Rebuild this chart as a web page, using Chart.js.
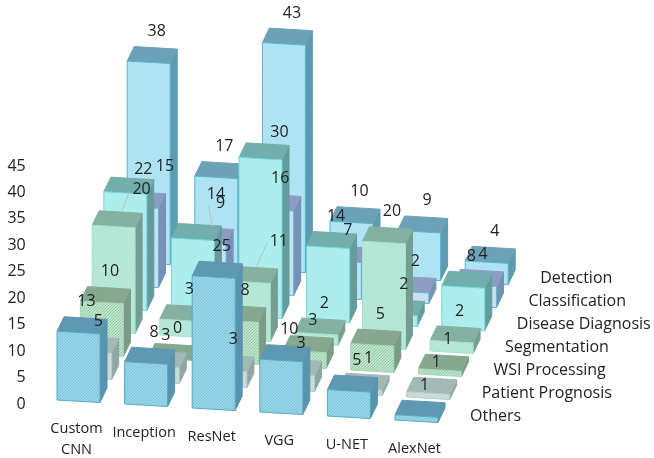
<!DOCTYPE html>
<html>
<head>
<meta charset="utf-8">
<style>html,body{margin:0;padding:0;background:#fff}canvas{display:block}</style>
<script src="https://cdn.jsdelivr.net/npm/chart.js@4"></script>
</head>
<body>
<canvas id="c" width="654" height="458"></canvas>
<script>
// Model families along the width of the chart
const models = ["Custom CNN", "Inception", "ResNet", "VGG", "U-NET", "AlexNet"];

// Application areas, nearest row first
const areas = ["Others", "Patient Prognosis", "WSI Processing", "Segmentation",
               "Disease Diagnosis", "Classification", "Detection"];

// Publication counts per application area, one value per model
const others       = [13, 8, 25, 10, 5, 1];
const prognosis    = [5, 3, 3, 3, 1, 1];
const wsi          = [10, 0, 8, 3, 5, 1];
const segmentation = [20, 3, 11, 2, 20, 2];
const diagnosis    = [22, 14, 30, 14, 2, 8];
const classify     = [15, 9, 16, 7, 2, 4];
const detection    = [38, 17, 43, 10, 9, 4];
const seriesValues = [others, prognosis, wsi, segmentation, diagnosis, classify, detection];

const yTicksMax = 45;
const yTicksStep = 5;

// Face colours of each row: front, hatch, top, side, edge
const palette = [
  ["#9ad6e8", "#7cc3da", "#5f98b2", "#5a93ad", "#55aac4"],
  ["#bdd3cf", "#e0eeea", "#a3b9b6", "#8fa6a4", "#b2cdc8"],
  ["#bfe6cb", "#93c9a5", "#85a88f", "#7a9b85", "#a6d3b6"],
  ["#bcebdc", "#a5dfcd", "#85b1a2", "#759e93", "#a8e0d0"],
  ["#a6ecec", "#b8f0ef", "#72aeac", "#649c9e", "#6fd8da"],
  ["#bcdcf2", "#d6ebf8", "#8c9dc4", "#7690b6", "#62b6d0"],
  ["#a8e0f3", "#bde8f6", "#6ca2b7", "#5e9ab0", "#55b5cf"]
];

// Oblique projection of the depth axis
const ROW_DX = 11.7, ROW_DY = -23;
const DEPTH_DX = 7, DEPTH_DY = -14.5;
const SLOPE = 4 / 67.6;

// Value labels moved off their bars: "row,model": [dx, dy, leader line]
const labelShift = {
  "4,0": [10, 7], "3,0": [20, -6, true], "5,0": [20, -10],
  "4,1": [15, -14], "5,1": [8, -8, true],
  "4,2": [11, 5], "3,2": [22, -10, true]
};

const FONT = '"Open Sans", sans-serif';
const TEXT = "#222";

function hatch(bg, fg, ctx) {
  const s = document.createElement("canvas");
  s.width = s.height = 3;
  const g = s.getContext("2d");
  g.fillStyle = bg;
  g.fillRect(0, 0, 3, 3);
  g.fillStyle = fg;
  g.fillRect(2, 0, 1, 1);
  g.fillRect(1, 1, 1, 1);
  g.fillRect(0, 2, 1, 1);
  return ctx.createPattern(s, "repeat");
}

function face(ctx, pts, fill, edge) {
  ctx.beginPath();
  pts.forEach((p, i) => i ? ctx.lineTo(p[0], p[1]) : ctx.moveTo(p[0], p[1]));
  ctx.closePath();
  ctx.fillStyle = fill;
  ctx.fill();
  ctx.strokeStyle = edge;
  ctx.lineWidth = 1;
  ctx.stroke();
}

// Where a bar of the library's layout lands once it is pushed back into its row
function project(chart, row, bar) {
  const left = chart.chartArea.left;
  const tilt = x => (x - left - 12) * SLOPE - 2;
  const x0 = bar.x - bar.width / 2;
  const x1 = x0 + bar.width;
  const dy = row * ROW_DY;
  const dx = row * ROW_DX;
  return {
    x0: x0 + dx,
    x1: x1 + dx,
    yTop0: bar.y + dy + tilt(x0),
    yTop1: bar.y + dy + tilt(x1),
    yBot0: bar.base + dy + tilt(x0),
    yBot1: bar.base + dy + tilt(x1)
  };
}

const bars3d = {
  id: "bars3d",
  afterDatasetsDraw(chart) {
    const ctx = chart.ctx;
    ctx.save();
    // Far rows first so nearer bars cover them
    for (let r = areas.length - 1; r >= 0; r--) {
      const [front, fg, top, side, edge] = palette[r];
      const pattern = hatch(front, fg, ctx);
      chart.getDatasetMeta(r).data.forEach(bar => {
        const p = project(chart, r, bar);
        face(ctx, [[p.x1, p.yTop1], [p.x1 + DEPTH_DX, p.yTop1 + DEPTH_DY],
                   [p.x1 + DEPTH_DX, p.yBot1 + DEPTH_DY], [p.x1, p.yBot1]], side, side);
        face(ctx, [[p.x0, p.yTop0], [p.x0 + DEPTH_DX, p.yTop0 + DEPTH_DY],
                   [p.x1 + DEPTH_DX, p.yTop1 + DEPTH_DY], [p.x1, p.yTop1]], top, top);
        face(ctx, [[p.x0, p.yTop0], [p.x1, p.yTop1], [p.x1, p.yBot1], [p.x0, p.yBot0]], pattern, edge);
      });
    }

    ctx.font = "16px " + FONT;
    ctx.textAlign = "center";
    ctx.textBaseline = "middle";

    // Value labels and their leader lines
    seriesValues.forEach((vals, r) => {
      chart.getDatasetMeta(r).data.forEach((bar, m) => {
        const p = project(chart, r, bar);
        const ax = (p.x0 + p.x1) / 2 + 8;
        const ay = p.yTop0 + DEPTH_DY;
        const shift = labelShift[r + "," + m] || [0, 0, false];
        const lx = ax + shift[0];
        const ly = ay - 15 + shift[1];
        if (shift[2]) {
          ctx.beginPath();
          ctx.moveTo(ax, ay);
          ctx.lineTo(lx - 12, ly + 2);
          ctx.strokeStyle = "#b3c4c6";
          ctx.lineWidth = 1;
          ctx.stroke();
        }
        ctx.fillStyle = TEXT;
        ctx.fillText(String(vals[m]), lx, ly);
      });
    });

    // Model names step down with the floor of the chart
    const xs = chart.scales.x;
    const floor = chart.chartArea.bottom;
    ctx.font = "14.5px " + FONT;
    models.forEach((name, i) => {
      const x = xs.getPixelForValue(i) - 2;
      const y = floor + 27 + i * 4;
      const parts = name === "Custom CNN" ? name.split(" ") : [name];
      parts.forEach((t, k) => ctx.fillText(t, x, y + k * 21));
    });

    // Row names follow the depth axis beyond the last model
    ctx.font = "16px " + FONT;
    ctx.textAlign = "left";
    const end = xs.getPixelForValue(models.length - 1) + 53.5;
    areas.forEach((name, r) => {
      ctx.fillText(name, end + r * ROW_DX, floor + 14 + r * ROW_DY);
    });
    ctx.restore();
  }
};

new Chart(document.getElementById("c"), {
  type: "bar",
  data: {
    labels: models,
    datasets: areas.map((label, r) => ({
      label,
      data: seriesValues[r],
      grouped: false,
      backgroundColor: "transparent",
      borderWidth: 0,
      categoryPercentage: 1,
      barPercentage: 43 / 67.6
    }))
  },
  options: {
    responsive: false,
    animation: false,
    events: [],
    layout: { padding: { top: 164, right: 203.7, bottom: 56, left: 0 } },
    plugins: { legend: { display: false }, tooltip: { enabled: false } },
    scales: {
      x: { display: false },
      y: {
        min: 0,
        max: yTicksMax,
        afterFit(scale) { scale.width = 44.7; },
        grid: { display: false, drawTicks: false },
        border: { display: false },
        ticks: {
          stepSize: yTicksStep,
          padding: 19,
          labelOffset: 2,
          color: TEXT,
          font: { family: FONT, size: 16 }
        }
      }
    }
  },
  plugins: [bars3d]
});
</script>
</body>
</html>
